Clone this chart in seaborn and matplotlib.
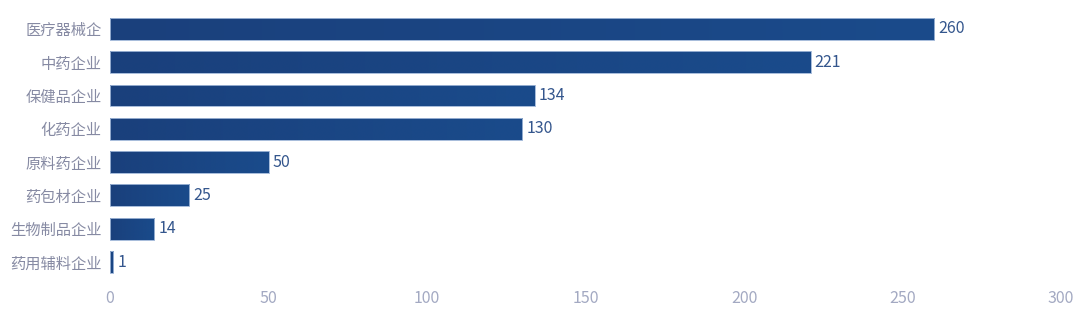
import numpy as np
import pandas as pd
import matplotlib
matplotlib.use("Agg")
import matplotlib.pyplot as plt
import seaborn as sns
from matplotlib.colors import LinearSegmentedColormap
from matplotlib.patches import Rectangle

categories = ["医疗器械企", "中药企业", "保健品企业", "化药企业", "原料药企业", "药包材企业", "生物制品企业", "药用辅料企业"]
values = [260, 221, 134, 130, 50, 25, 14, 1]
xticks = [0, 50, 100, 150, 200, 250, 300]

sns.set_theme(style="white")
plt.rcParams['font.family'] = ['Noto Sans CJK SC', 'DejaVu Sans']

df = pd.DataFrame({"cat": categories, "val": values})

fig = plt.figure(figsize=(10.8, 3.22), dpi=100)
ax = fig.add_axes([0.1019, 0.1345, 0.8805, 0.8275])
sns.barplot(data=df, y="cat", x="val", orient="h", color="#1a4686", width=0.66,
            edgecolor="#a9bedc", linewidth=0.6, ax=ax)

cmap = LinearSegmentedColormap.from_list("g", ["#1a407c", "#1a4b8b"])
grad = np.linspace(0, 1, 256).reshape(1, -1)
for p in list(ax.patches):
    x0, y0 = p.get_x(), p.get_y()
    w, h = p.get_width(), p.get_height()
    im = ax.imshow(grad, cmap=cmap, aspect="auto", extent=[x0, x0 + w, y0 + h, y0],
                   zorder=p.get_zorder() + 0.1, interpolation="bicubic")
    im.set_clip_path(p)
    ax.add_patch(Rectangle((x0, y0), w, h, fill=False, edgecolor="#a9bedc",
                           linewidth=0.6, zorder=p.get_zorder() + 0.2))

for i, v in enumerate(values):
    ax.text(v + 1.3, i, str(v), va="center", ha="left", fontsize=11.5, color="#34568d")

ax.set_xlim(0, 300)
ax.set_ylim(len(categories) - 0.5, -0.5)
ax.set_xticks(xticks)
ax.set_xticklabels([str(t) for t in xticks])
ax.tick_params(axis="x", colors="#a3a9c2", labelsize=11.5, length=0, pad=8)
ax.tick_params(axis="y", colors="#868aa3", labelsize=11, length=0, pad=6)
for lab in ax.get_yticklabels():
    lab.set_color("#868aa3")
ax.set_xlabel("")
ax.set_ylabel("")
for s in ax.spines.values():
    s.set_visible(False)
ax.grid(False)

fig.savefig("out.png", dpi=100)
